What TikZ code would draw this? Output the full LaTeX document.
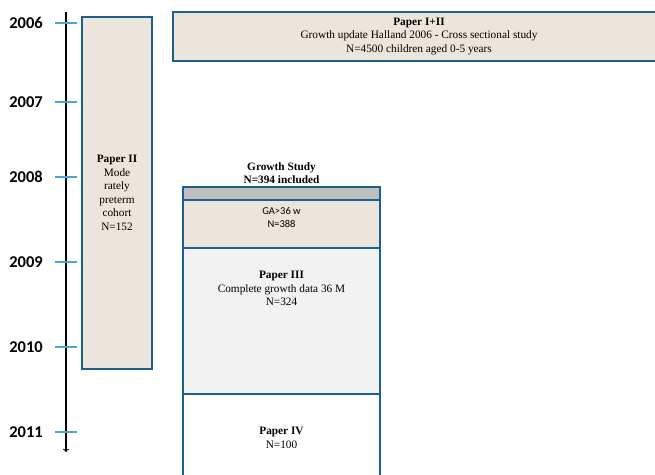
\documentclass[tikz,border=0pt]{standalone}
\usepackage{fontspec}
\setmainfont{Liberation Serif}
\newfontfamily\calfont{Carlito}
\usepackage{tikz}
\usetikzlibrary{arrows,positioning,calc}

\definecolor{boxblue}{RGB}{28,96,142}
\definecolor{tickblue}{RGB}{70,166,208}
\definecolor{beige}{RGB}{235,229,219}
\definecolor{band}{RGB}{191,191,191}
\definecolor{pale}{RGB}{242,242,242}

\begin{document}
\begin{tikzpicture}[x=1pt,y=-1pt,
			yr/.style={font=\calfont\bfseries\fontsize{16.5}{18}\selectfont},
			tick/.style={draw=tickblue,line width=1.6pt},
			box/.style={rectangle,draw=boxblue,line width=1.8pt,inner sep=0pt},
			txt/.style={align=center,inner sep=0pt,font=\fontsize{11.3}{13.5}\selectfont}]
		\clip (0,0) rectangle (655,474);
		% time axis
		\coordinate (top) at (66,12);
		\coordinate (bot) at (66,452);
		\draw [black,line width=1.1pt,-to] (top) -- (bot);
		\path 	(26,23) 	node 	(y6) [yr] {2006}
		        (26,102) 	node 	(y7) [yr] {2007}
		        (26,177) 	node 	(y8) [yr] {2008}
		        (26,262) 	node 	(y9) [yr] {2009}
		        (26,347) 	node 	(y10) [yr] {2010}
		        (26,432) 	node 	(y11) [yr] {2011};
		\draw [tick] (55,23) -- (77,23) (55,102) -- (77,102) (55,177) -- (77,177)
		             (55,262) -- (77,262) (55,347) -- (77,347) (55,432) -- (77,432);
		% studies
		\path 	(117,193) 	node 	(p2) [box, fill=beige, minimum width=70pt, minimum height=352pt] {}
		        (419,36.5) 	node 	(p12) [box, fill=beige, minimum width=492pt, minimum height=49pt] {}
		        (281.5,193.5) node 	(gs) [box, fill=band, minimum width=197pt, minimum height=13pt] {}
		        (281.5,224) node 	(ga) [box, fill=beige, minimum width=197pt, minimum height=48pt] {}
		        (281.5,321) node 	(p3) [box, fill=pale, minimum width=197pt, minimum height=146pt] {}
		        (281.5,442) node 	(p4) [box, fill=white, minimum width=197pt, minimum height=96pt] {};
		\node [txt] (p2t) at (p2) {\textbf{Paper II}\\Mode\\rately\\preterm\\cohort\\N=152};
		\node [txt] (p12t) at (p12) {\textbf{Paper I+II}\\Growth update Halland 2006 - Cross sectional study\\N=4500 children aged 0-5 years};
		\node [txt, above=2pt of gs] (gst) {\textbf{Growth Study}\\\textbf{N=394 included}};
		\node [txt, below=8.5pt of ga.north, font=\calfont\fontsize{10.5}{13}\selectfont] (gat) {GA>36 w\\N=388};
		\node [txt, below=24pt of p3.north] (p3t) {\textbf{Paper III}\\Complete growth data 36 M\\N=324};
		\node [txt, below=34pt of p4.north] (p4t) {\textbf{Paper IV}\\N=100};
	\end{tikzpicture}
\end{document}
